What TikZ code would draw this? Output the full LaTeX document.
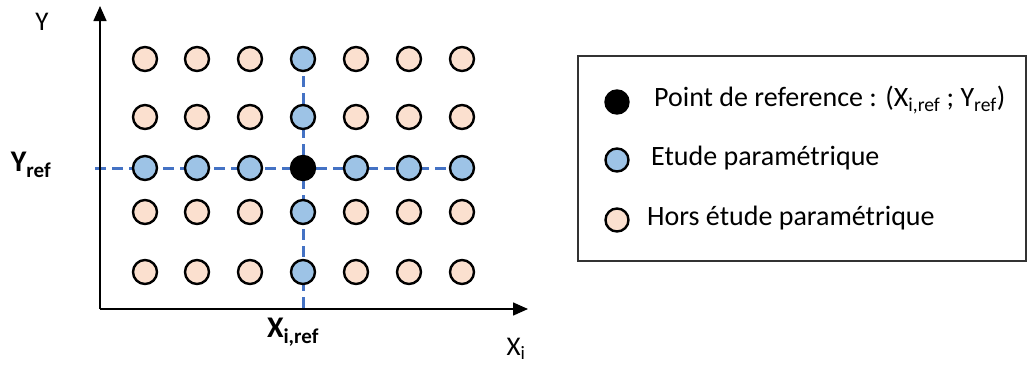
\documentclass[tikz,border=0pt]{standalone}
\usepackage{fontspec}
\setmainfont{Carlito}
\usetikzlibrary{arrows.meta,backgrounds}
\definecolor{peach}{HTML}{FBE0CF}
\definecolor{lblue}{HTML}{9DC3E6}
\definecolor{dblue}{HTML}{4472C4}
\newcommand{\lowsub}[1]{\textsubscript{#1}}
\begin{document}
\begin{tikzpicture}[x=1pt,y=-1pt,
  pt/.style={circle,draw=black,line width=2.4pt,minimum size=24pt,inner sep=0pt},
  hors/.style={pt,fill=peach},
  param/.style={pt,fill=lblue},
  refpt/.style={pt,fill=black},
  axis/.style={line width=1.5pt,-{Triangle[length=15pt,width=13pt]}},
  dline/.style={dblue,line width=3pt,dash pattern=on 11pt off 6pt},
  lbl/.style={inner sep=0pt,font=\fontsize{27}{30}\selectfont},
  blbl/.style={inner sep=0pt,font=\bfseries\fontsize{30}{32}\selectfont},
  legtxt/.style={inner sep=0pt,anchor=west,font=\fontsize{28}{32}\selectfont}]
\useasboundingbox (0,0) rectangle (1028,365);
% grid
\foreach \x [count=\i] in {145,197,250,303,356,409,462}{
  \foreach \y [count=\j] in {59,117,168,212,272}{
    \ifnum\i=4
      \ifnum\j=3
        \node[refpt] (c-\i-\j) at (\x,\y) {};
      \else
        \node[param] (c-\i-\j) at (\x,\y) {};
      \fi
    \else
      \ifnum\j=3
        \node[param] (c-\i-\j) at (\x,\y) {};
      \else
        \node[hors] (c-\i-\j) at (\x,\y) {};
      \fi
    \fi
  }
}
\coordinate (o) at (100,309);
\coordinate (ytip) at (100,6);
\coordinate (xtip) at (528,309);
\coordinate (hl) at (95,168);
\coordinate (vb) at (303,311);
\begin{scope}[on background layer]
  \draw[dline] (hl) -- (c-7-3.center);
  \draw[dline] (c-4-1.center) -- (vb);
  \draw[axis] (o) -- (ytip);
  \draw[axis] (o) -- (xtip);
\end{scope}
% axis labels
\node[lbl] (ylab) at (42,22) {Y};
\node[lbl] (xlab) at (516,349) {X\lowsub{i}};
\node[blbl] (yref) at (31,165) {Y\lowsub{ref}};
\node[blbl] (xref) at (293,332) {X\lowsub{i,ref}};
% legend
\node[draw=black!80,line width=1.6pt,minimum width=448pt,minimum height=205pt,anchor=north west,inner sep=0pt] (leg) at (577,55) {};
\node[refpt,minimum size=23pt] (l1) at (617,102) {};
\node[param,minimum size=23pt] (l2) at (617,160) {};
\node[hors,minimum size=23pt] (l3) at (617,220) {};
\node[legtxt] (t1) at (654,100) {Point de reference : (X\lowsub{i,ref} ; Y\lowsub{ref})};
\node[legtxt] (t2) at (651,158) {Etude paramétrique};
\node[legtxt] (t3) at (647,218) {Hors étude paramétrique};
\end{tikzpicture}
\end{document}
